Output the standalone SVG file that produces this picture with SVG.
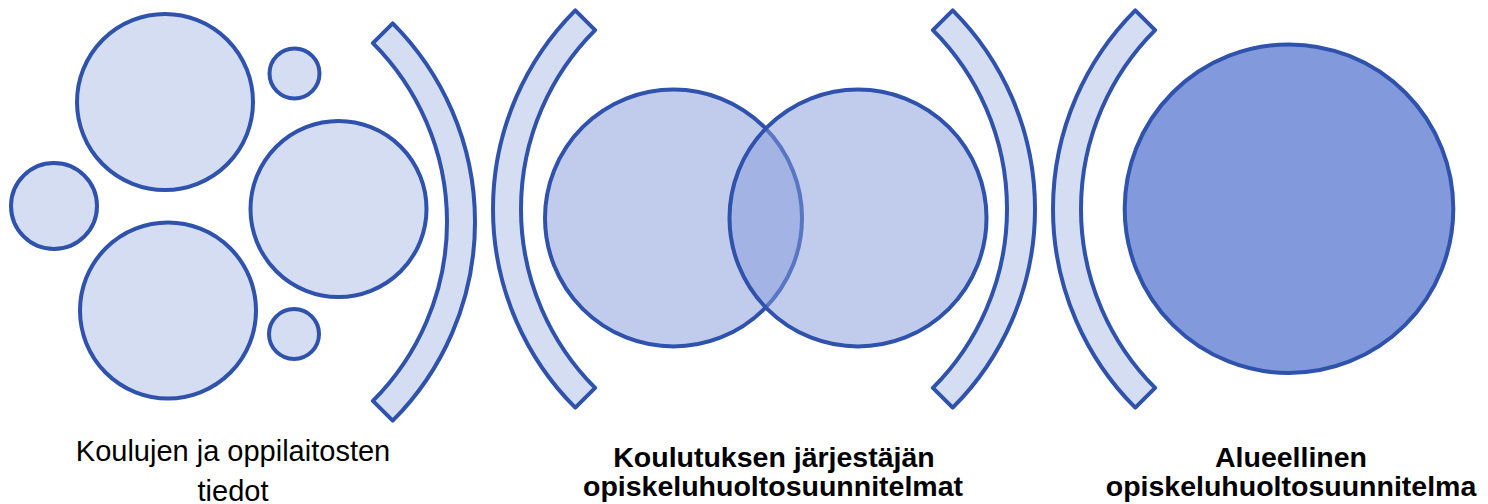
<svg xmlns="http://www.w3.org/2000/svg" width="1488" height="504" viewBox="0 0 1488 504">
<style>
  .s { stroke: #2F52AD; stroke-width: 4; stroke-linejoin: round; }
  .light { fill: #D4DDF1; }
  .mid { fill: #8399DB; fill-opacity: 0.5; }
  .dark { fill: #8299DB; }
  .t { font-family: "Liberation Sans", Arial, sans-serif; font-size: 29px; fill: #000; text-anchor: middle; }
  .b { font-weight: bold; font-size: 28.5px; }
</style>
<rect width="1488" height="504" fill="#fff"/>
<g id="schools">
  <circle class="s light" cx="165" cy="102" r="88"/>
  <circle class="s light" cx="294.5" cy="73.5" r="25"/>
  <circle class="s light" cx="54" cy="206" r="43"/>
  <circle class="s light" cx="338.5" cy="209" r="88"/>
  <circle class="s light" cx="168" cy="310.5" r="88"/>
  <circle class="s light" cx="294" cy="334" r="25"/>
  <text class="t" x="233" y="461">Koulujen ja oppilaitosten</text>
  <text class="t" x="233" y="501">tiedot</text>
</g>
<g id="arc1">
  <path class="s light" d="M 372.9 43.1 L 392.7 23.3 A 281 281 0 0 1 392.7 420.7 L 372.9 400.9 A 253 253 0 0 0 372.9 43.1 Z"/>
</g>
<g id="arc2">
  <path class="s light" d="M 595.1 30.1 L 575.3 10.3 A 281 281 0 0 0 575.3 407.7 L 595.1 387.9 A 253 253 0 0 1 595.1 30.1 Z"/>
</g>
<g id="provider">
  <circle class="s mid" cx="673.5" cy="218" r="128.5"/>
  <circle class="s mid" cx="858" cy="218" r="128.5"/>
  <text class="t b" x="774" y="467">Koulutuksen järjestäjän</text>
  <text class="t b" x="773" y="496">opiskeluhuoltosuunnitelmat</text>
</g>
<g id="arc3">
  <path class="s light" d="M 932.9 30.1 L 952.7 10.3 A 281 281 0 0 1 952.7 407.7 L 932.9 387.9 A 253 253 0 0 0 932.9 30.1 Z"/>
</g>
<g id="arc4">
  <path class="s light" d="M 1155.1 30.1 L 1135.3 10.3 A 281 281 0 0 0 1135.3 407.7 L 1155.1 387.9 A 253 253 0 0 1 1155.1 30.1 Z"/>
</g>
<g id="regional">
  <circle class="s dark" cx="1289" cy="208.7" r="164.3"/>
  <text class="t b" x="1291" y="467">Alueellinen</text>
  <text class="t b" x="1291" y="496">opiskeluhuoltosuunnitelma</text>
</g>
</svg>
